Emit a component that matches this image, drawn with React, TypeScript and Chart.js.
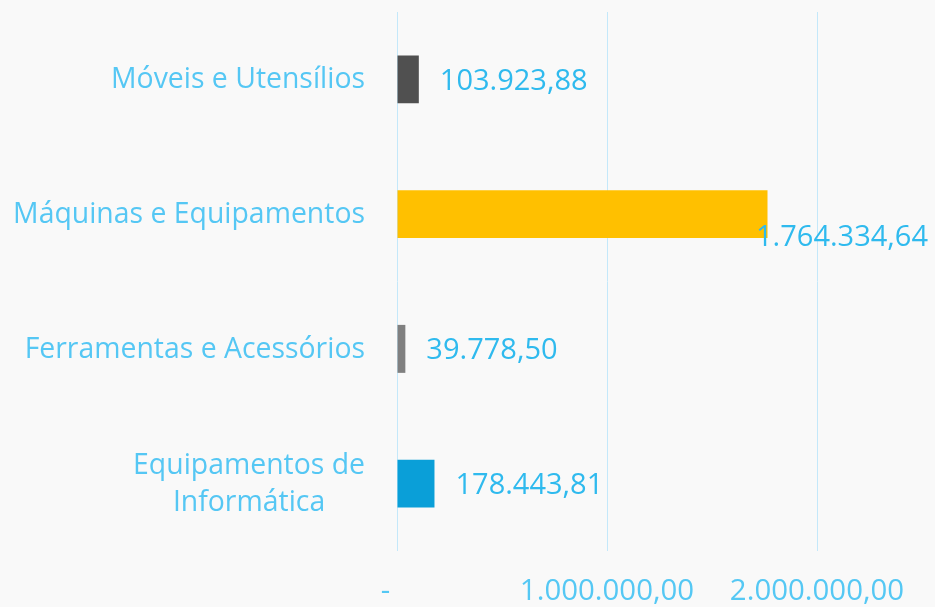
import React, { useEffect, useRef } from "react";
import { Chart, registerables } from "chart.js";

Chart.register(...registerables);

const categories: string[][] = [
  ["Móveis e Utensílios"],
  ["Máquinas e Equipamentos"],
  ["Ferramentas e Acessórios"],
  ["Equipamentos de", "Informática"],
];
const values: number[] = [103923.88, 1764334.64, 39778.5, 178443.81];
const barColors: string[] = ["#505050", "#FFC000", "#808080", "#0A9FD8"];
const xTicks: number[] = [0, 1000000, 2000000];
const xMax = 2500000;

const FONT = "'Open Sans', 'Noto Sans', sans-serif";
const CAT_COLOR = "#55C7F4";
const VAL_COLOR = "#2FBAEE";
const TICK_COLOR = "#55C8F4";

function fmtBR(v: number): string {
  const neg = v < 0;
  const abs = Math.abs(v);
  const fixed = abs.toFixed(2);
  const [intPart, dec] = fixed.split(".");
  const withDots = intPart.replace(/\B(?=(\d{3})+(?!\d))/g, ".");
  return (neg ? "-" : "") + withDots + "," + dec;
}

const categoryLabelsPlugin = {
  id: "categoryLabels",
  afterDraw(chart: any) {
    const ctx = chart.ctx;
    const yScale = chart.scales.y;
    const rightEdge = chart.chartArea.left - 32;
    const lineHeight = 37;
    ctx.save();
    ctx.font = `28.4px ${FONT}`;
    ctx.fillStyle = CAT_COLOR;
    ctx.textAlign = "center";
    ctx.textBaseline = "middle";
    categories.forEach((lines, i) => {
      const yc = yScale.getPixelForValue(i) + 1;
      const blockW = Math.max(...lines.map((l) => ctx.measureText(l).width));
      const cx = rightEdge - blockW / 2;
      lines.forEach((line, j) => {
        const y = yc + (j - (lines.length - 1) / 2) * lineHeight;
        ctx.fillText(line, cx, y);
      });
    });
    ctx.restore();
  },
};

const valueLabelsPlugin = {
  id: "valueLabels",
  afterDatasetsDraw(chart: any) {
    const ctx = chart.ctx;
    const meta = chart.getDatasetMeta(0);
    ctx.save();
    ctx.font = `29px ${FONT}`;
    ctx.fillStyle = VAL_COLOR;
    ctx.textAlign = "left";
    ctx.textBaseline = "middle";
    meta.data.forEach((bar: any, i: number) => {
      const text = fmtBR(values[i]);
      const w = ctx.measureText(text).width;
      let x = bar.x + 21;
      let y = bar.y + 2;
      if (x + w > chart.width - 7) {
        x = chart.width - 7 - w;
        y = bar.y + 24;
      }
      ctx.fillText(text, x, y);
    });
    ctx.restore();
  },
};

export default function App() {
  const canvasRef = useRef<HTMLCanvasElement | null>(null);

  useEffect(() => {
    document.body.style.margin = "0";
    document.body.style.background = "#F9F9F9";
    const canvas = canvasRef.current;
    if (!canvas) return;
    const chart = new Chart(canvas, {
      type: "bar",
      data: {
        labels: categories.map((c) => c.join(" ")),
        datasets: [
          {
            data: values,
            backgroundColor: barColors,
            borderWidth: 0,
            categoryPercentage: 1,
            barPercentage: 0.356,
          },
        ],
      },
      options: {
        indexAxis: "y",
        animation: false,
        responsive: false,
        maintainAspectRatio: false,
        layout: { padding: { top: 12, right: 13, left: 0, bottom: 0 } },
        plugins: {
          legend: { display: false },
          tooltip: { enabled: false },
        },
        scales: {
          x: {
            min: 0,
            max: xMax,
            afterBuildTicks: (s: any) => {
              s.ticks = xTicks.map((v) => ({ value: v }));
            },
            afterFit: (s: any) => {
              s.height = 56;
            },
            grid: { color: "#C4E8FA", lineWidth: 1, drawTicks: false },
            border: { display: false },
            ticks: {
              padding: 23,
              maxRotation: 0,
              autoSkip: false,
              color: TICK_COLOR,
              font: { family: FONT, size: 29.4 },
              callback: (v: any) => (Number(v) === 0 ? "-   " : fmtBR(Number(v))),
            },
          },
          y: {
            grid: { display: false },
            border: { display: false },
            ticks: { display: false },
            afterFit: (s: any) => {
              s.width = 397;
            },
          },
        },
      } as any,
      plugins: [categoryLabelsPlugin, valueLabelsPlugin],
    });
    return () => chart.destroy();
  }, []);

  return (
    <div style={{ width: 935, height: 607, background: "#F9F9F9" }}>
      <canvas ref={canvasRef} width={935} height={607} style={{ display: "block" }} />
    </div>
  );
}
